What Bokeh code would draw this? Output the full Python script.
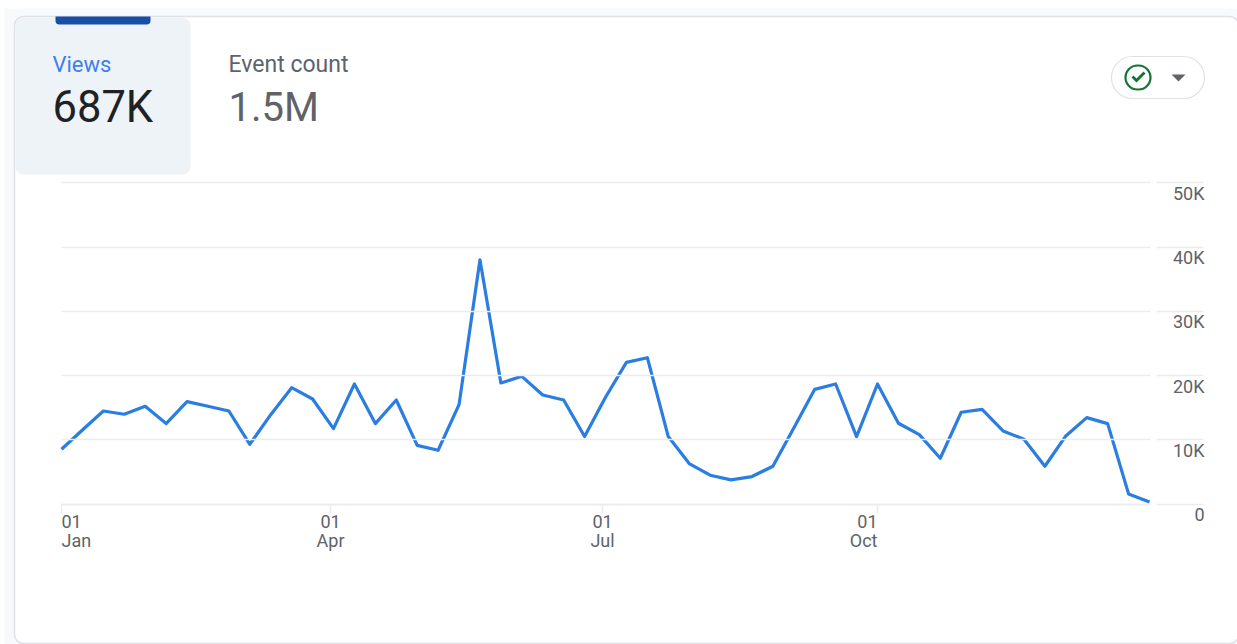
from bokeh.plotting import figure
from bokeh.embed import file_html
from bokeh.resources import INLINE
from bokeh.models import BoxAnnotation, PolyAnnotation, Label, FixedTicker, Range1d, LinearAxis

# ---- data ----
days = [d * 7 for d in range(53)]
views = [8550, 11550, 14500, 14000, 15230, 12540, 15950, 15230, 14500, 9320,
         13930, 18130, 16370, 11760, 18700, 12540, 16210, 9150, 8390, 15490,
         38020, 18860, 19890, 16990, 16210, 10520, 16630, 22070, 22790, 10520,
         6320, 4510, 3780, 4300, 5900, 11860, 17870, 18700, 10520, 18700,
         12590, 10830, 7150, 14300, 14760, 11400, 10100, 5900, 10620, 13470,
         12540, 1600, 360]
y_ticks = [0, 10000, 20000, 30000, 40000, 50000]
y_tick_labels = ["0", "10K", "20K", "30K", "40K", "50K"]
x_ticks = [0, 90, 181, 273]
x_tick_days = ["01", "01", "01", "01"]
x_tick_months = ["Jan", "Apr", "Jul", "Oct"]
x_label_align = ["left", "center", "center", "right"]
metric_names = ["Views", "Event count"]
metric_values = ["687K", "1.5M"]

# ---- layout constants (page pixels; the frame fills the whole page) ----
W, H = 1237, 644
PLOT_L, PLOT_R, PLOT_T, PLOT_B = 61, 1149, 182.3, 503.7
LAST_DAY, TOP_VALUE = 364, 50000
FONT = "Roboto"
GREY = "#5f6368"
GRID = "#ececee"

px_per_day = (PLOT_R - PLOT_L) / LAST_DAY
px_per_val = (PLOT_B - PLOT_T) / TOP_VALUE
x_range = Range1d(-PLOT_L / px_per_day, (W - PLOT_L) / px_per_day)
y_range = Range1d((PLOT_B - H) / px_per_val, PLOT_B / px_per_val)

p = figure(width=W, height=H, output_backend="svg", toolbar_location=None,
           x_range=x_range, y_range=y_range, x_axis_location=None, y_axis_location=None,
           min_border=0, min_border_left=0, min_border_right=0, min_border_top=0, min_border_bottom=0)
p.outline_line_color = None
p.background_fill_color = "white"
p.border_fill_color = "white"
p.grid.visible = False


def box(l, t, r, b, **kw):
    kw.setdefault("line_color", None)
    return BoxAnnotation(left=l, right=r, top=H - t, bottom=H - b,
                         left_units="screen", right_units="screen",
                         top_units="screen", bottom_units="screen",
                         fill_alpha=1, line_alpha=1, editable=False, **kw)


def poly(pts, **kw):
    return PolyAnnotation(xs=[a for a, _ in pts], ys=[H - b for _, b in pts],
                          xs_units="screen", ys_units="screen", fill_alpha=1, line_color=None, **kw)


def label(x, y, text, size, color, **kw):
    return Label(x=x, y=H - y, x_units="screen", y_units="screen", text=text,
                 text_font=FONT, text_font_size=f"{size}px", text_color=color,
                 text_baseline="middle", **kw)


# page band, card and tab chrome
p.add_layout(box(4, 8, W + 4, H + 4, fill_color="#f8f9fa", level="image"))
p.add_layout(box(14, 16, W + 1, 643, fill_color="white", line_color="#dfe1e5",
                 line_width=1.5, border_radius=9, level="image"))
p.add_layout(box(15, 17, 190, 174, fill_color="#eef3f8", border_radius=8, level="image"))
p.add_layout(box(55, 16, 150, 24, fill_color="#174ea6",
                 border_radius=dict(top_left=0, top_right=0, bottom_left=4, bottom_right=4),
                 level="image"))
p.add_layout(box(1111, 56, 1204, 98, fill_color="white", line_color="#dfe1e5",
                 line_width=1.2, border_radius=21))
p.add_layout(box(1125, 65, 1150, 89, fill_color="white", line_color="#137333",
                 line_width=2.2, border_radius=12))
p.add_layout(poly([(1131, 77), (1133, 75), (1136, 78), (1143, 71), (1145, 73), (1136, 82)],
                  fill_color="#137333"))
p.add_layout(poly([(1171, 74), (1185, 74), (1178, 81)], fill_color=GREY))

# metric texts
p.add_layout(label(52, 64, metric_names[0], 22, "#3f7fec"))
p.add_layout(label(228, 64, metric_names[1], 23, GREY))
p.add_layout(label(52, 107, metric_values[0], 43.5, "#202124"))
p.add_layout(label(228, 107, metric_values[1], 40, GREY))


def y_axis(location, tick_len):
    ax = LinearAxis(ticker=FixedTicker(ticks=y_ticks), fixed_location=location,
                    major_label_overrides={t: "" for t in y_ticks},
                    axis_line_color=None, minor_tick_line_color=None,
                    major_tick_line_color=GRID, major_tick_line_width=1.5,
                    major_tick_in=0, major_tick_out=tick_len)
    p.add_layout(ax, "right")


y_axis(0, PLOT_R - PLOT_L + 1)                      # horizontal rules across the plot
y_axis((1156 - PLOT_L) / px_per_day, 47)            # short marks beside the plot

xax = LinearAxis(ticker=FixedTicker(ticks=x_ticks), fixed_location=0, bounds=(0, LAST_DAY),
                 major_label_overrides={t: "" for t in x_ticks},
                 axis_line_color=GRID, axis_line_width=1.5, minor_tick_line_color=None,
                 major_tick_line_color=GRID, major_tick_line_width=1.5,
                 major_tick_in=0, major_tick_out=9)
p.add_layout(xax, "below")

for v, t in zip(y_ticks, y_tick_labels):
    p.add_layout(Label(x=1204, y=v, x_units="screen", y_offset=-10.5, text=t, text_font=FONT,
                       text_font_size="18px", text_color=GREY, text_align="right",
                       text_baseline="middle"))

for d, dd, m, a in zip(x_ticks, x_tick_days, x_tick_months, x_label_align):
    for txt, py in ((dd, 521), (m, 539.5)):
        p.add_layout(Label(x=d, y=H - py, y_units="screen", text=txt, text_font=FONT,
                           text_font_size="18px", text_color=GREY, text_align=a,
                           text_baseline="middle"))

p.line(days, views, line_color="#2a7de1", line_width=3.2, line_join="round")

open("out.html", "w").write(file_html(p, INLINE))
